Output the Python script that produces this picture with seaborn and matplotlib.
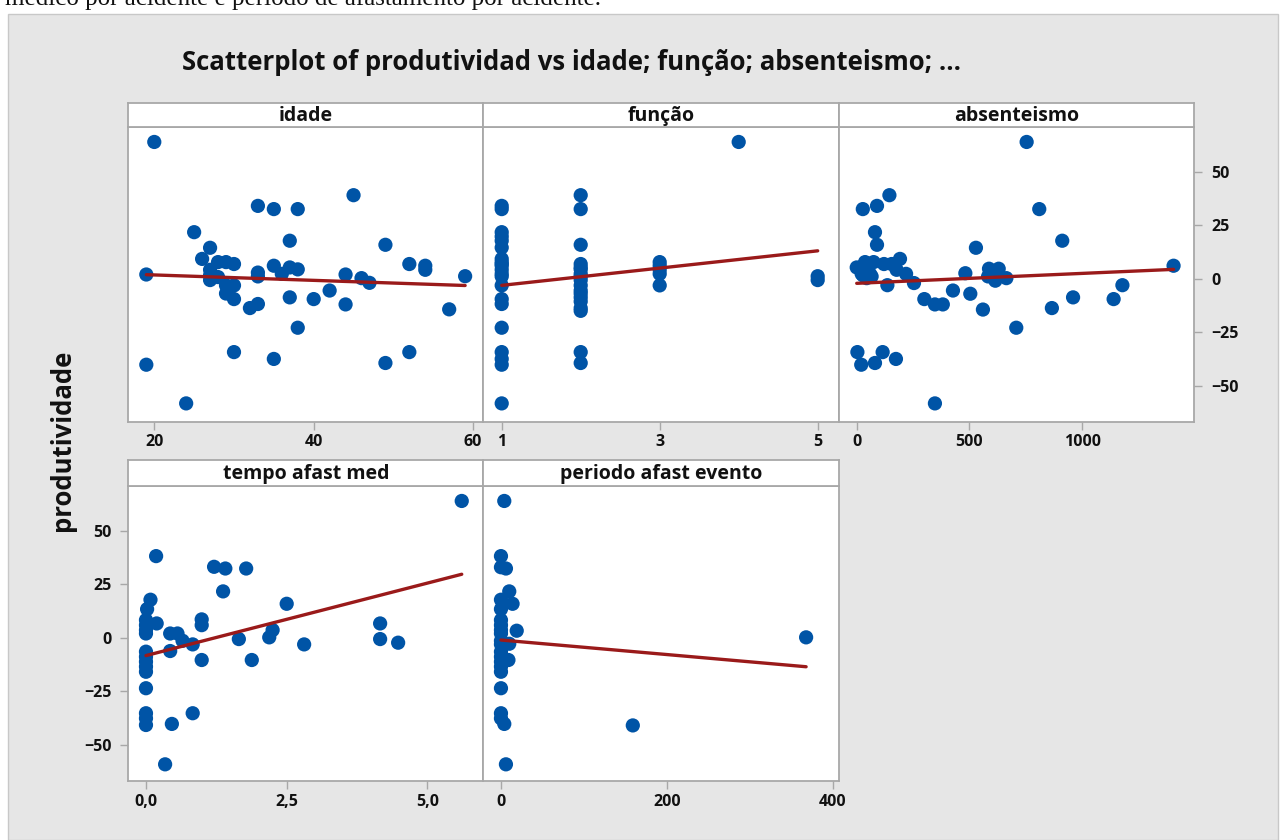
import matplotlib
matplotlib.use("Agg")
import matplotlib.pyplot as plt
import seaborn as sns
from matplotlib.patches import Rectangle

# produtividade vs each predictor
idade_x = [20, 45, 33, 35, 38, 25, 37, 49, 27, 26, 28, 29, 30, 35, 37, 38, 52, 54, 54, 19,
           27, 27, 33, 33, 36, 44, 46, 47, 59, 28, 27, 29, 30, 29, 30, 37, 40, 42, 44, 32,
           33, 57, 38, 30, 52, 35, 49, 19, 24]
idade_y = [64, 39.1, 34.1, 32.6, 32.6, 21.8, 17.8, 15.9, 14.5, 9.3, 7.8, 7.8, 6.9, 6.1, 5.3, 4.4,
           6.9, 6.1, 4.2, 2.0, 4.2, 1.6, 2.9, 1.1, 2.3, 2.0, 0.3, -1.9, 1.2, 0.8, -0.6, -3.1,
           -3.1, -6.9, -9.5, -8.7, -9.5, -5.5, -12.0, -13.7, -11.8, -14.3, -22.9, -34.3, -34.3,
           -37.5, -39.4, -40.2, -58.3]

funcao_x = [1] * 21 + [2] * 18 + [3] * 5 + [4] + [5] * 2
funcao_y = [34.1, 32.6, 21.8, 19.8, 17.8, 14.6, 9.3, 7.8, 6.9, 6.1, 4.2, 2.3, 1.1, -3.1, -9.5,
            -11.8, -22.9, -34.3, -37.5, -40.2, -58.3,
            39.1, 32.6, 15.9, 6.9, 5.3, 4.4, 2.3, 1.1, -0.6, -3.1, -5.5, -6.9, -8.7, -10.6,
            -13.7, -15.0, -34.3, -39.4,
            7.8, 6.1, 4.2, 2.3, -3.1,
            64,
            1.2, -0.6]

absent_x = [754, 145, 27, 90, 810, 81, 90, 912, 529, 0, 37, 75, 121, 155, 192, 177, 219, 22,
            59, 44, 254, 136, 482, 587, 630, 583, 615, 664, 1406, 300, 347, 382, 427, 504,
            560, 708, 866, 960, 1140, 1179, 3, 20, 81, 115, 174, 347, 28, 66]
absent_y = [64, 39.1, 32.6, 34.1, 32.6, 21.8, 15.9, 17.8, 14.5, 5.3, 7.8, 7.8, 6.9, 6.9, 9.3,
            4.2, 2.3, 2.3, 2.3, 0.3, -2.0, -3.0, 2.6, 4.7, 4.7, 1.1, -0.9, 0.3, 6.1, -9.5,
            -12.0, -12.0, -5.5, -7.0, -14.4, -22.9, -13.7, -8.7, -9.5, -3.0, -34.3, -40.2,
            -39.4, -34.3, -37.5, -58.3, 1.6, 1.1]

tempo_x = [5.61, 0.18, 1.21, 1.41, 1.78, 1.37, 2.5, 0.08, 0.02, 0, 0, 0, 0, 0.19, 0.99, 0.99,
           0.43, 0.56, 0.65, 0.83, 1.65, 2.19, 2.25, 2.81, 4.16, 4.16, 4.48, 0.43, 0.99, 1.88,
           0, 0, 0, 0, 0, 0, 0, 0, 0, 0.46, 0.83, 0.34]
tempo_y = [64, 38.2, 33.2, 32.4, 32.4, 21.7, 15.9, 17.8, 13.4, 8.3, 5.9, 3.6, 2.0, 6.7, 8.6,
           5.9, 2.0, 2.0, -1.4, -3.1, -0.6, 0.2, 3.6, -3.1, 6.7, -0.6, -2.3, -6.2, -10.4,
           -10.4, -6.5, -8.9, -11.2, -13.5, -15.9, -23.6, -35.3, -37.7, -40.8, -40.3, -35.3,
           -59.2]

periodo_x = [4, 0, 0, 6, 10, 14, 0, 0, 0, 0, 0, 0, 0, 0, 0, 0, 0, 0, 0, 19, 10, 9, 0, 0, 0,
             4, 159, 368, 6]
periodo_y = [64, 38.2, 33.0, 32.4, 21.7, 15.9, 17.8, 13.4, 8.3, 5.9, 3.6, 2.0, -1.4, -3.1,
             -6.5, -8.9, -11.2, -13.5, -15.9, 3.3, -2.8, -10.4, -23.6, -35.3, -37.7, -40.3,
             -41.0, 0.2, -59.2]

y_ticks = [-50, -25, 0, 25, 50]

sns.set_style("white")
plt.rcParams["font.family"] = ["Open Sans", "DejaVu Sans"]

W, H = 1284, 840
blue = "#0054a6"
red = "#9a1a1a"
frame = "#a8a8a8"
ink = "#111111"

fig = plt.figure(figsize=(W / 100, H / 100), dpi=100)
fig.patches.append(Rectangle((8 / W, 0), 1270 / W, 1 - 14 / H, transform=fig.transFigure,
                             facecolor="#e6e6e6", edgecolor="#c8c8c8", lw=1, zorder=-10))


def box(l, t, r, b):
    return [l / W, 1 - b / H, (r - l) / W, (b - t) / H]


cols = [(128.3, 483.3), (483.3, 838.7), (838.7, 1194.3)]
rows = [(103, 127, 422), (460, 486, 781)]

panels = [
    (idade_x, idade_y, "idade", 0, 0, (16.74, 61.28), [20, 40, 60], ["20", "40", "60"]),
    (funcao_x, funcao_y, "função", 0, 1, (0.767, 5.266), [1, 3, 5], ["1", "3", "5"]),
    (absent_x, absent_y, "absenteismo", 0, 2, (-80, 1498), [0, 500, 1000], ["0", "500", "1000"]),
    (tempo_x, tempo_y, "tempo afast med", 1, 0, (-0.314, 5.993), [0, 2.5, 5], ["0,0", "2,5", "5,0"]),
    (periodo_x, periodo_y, "periodo afast evento", 1, 1, (-21.3, 407.3), [0, 200, 400], ["0", "200", "400"]),
]

for xs, ys, name, r, c, xlim, xt, xtl in panels:
    l, rr = cols[c]
    st, t, b = rows[r]
    ax = fig.add_axes(box(l, t, rr, b))
    sns.regplot(x=xs, y=ys, ax=ax, ci=None, truncate=True,
                scatter_kws=dict(s=105, color=blue, edgecolor="none", alpha=1),
                line_kws=dict(color=red, lw=2.4))
    ax.set_xlim(*xlim)
    ax.set_ylim(-67, 71)
    ax.set_facecolor("white")
    for sp in ax.spines.values():
        sp.set_color(frame)
        sp.set_linewidth(1.3)
    ax.set_xticks(xt)
    ax.set_xticklabels(xtl)
    ax.tick_params(axis="x", direction="out", length=6, width=1, color=frame,
                   labelsize=11.5, pad=3, labelcolor=ink, bottom=True)
    ax.set_yticks(y_ticks)
    if (r, c) == (0, 2):
        ax.yaxis.tick_right()
        ax.tick_params(axis="y", direction="out", length=6, width=1, color=frame,
                       labelsize=11.5, pad=6, labelcolor=ink)
    elif (r, c) == (1, 0):
        ax.tick_params(axis="y", direction="out", length=6, width=1, color=frame,
                       labelsize=11.5, pad=6, labelcolor=ink, left=True)
    else:
        ax.tick_params(axis="y", left=False, labelleft=False)
    for lab in ax.get_xticklabels() + ax.get_yticklabels():
        lab.set_fontweight("bold")
    ax.set_xlabel("")
    ax.set_ylabel("")

    sx = fig.add_axes(box(l, st, rr, t))
    sx.set_facecolor("white")
    sx.set_xticks([])
    sx.set_yticks([])
    for sp in sx.spines.values():
        sp.set_color(frame)
        sp.set_linewidth(1.3)
    sx.text(0.5, 0.45, name, ha="center", va="center", fontsize=14,
            fontweight="bold", transform=sx.transAxes, color=ink)

fig.text(571 / W, 1 - 63 / H, "Scatterplot of produtividad vs idade; função; absenteismo; ...",
         ha="center", va="center", fontsize=18.5, fontweight="bold", color=ink)
fig.text(62 / W, 1 - 440 / H, "produtividade", rotation=90, ha="center", va="center",
         fontsize=18.5, fontweight="bold", color=ink)
fig.text(5 / W, 1 - 5 / H, "médico por acidente e período de afastamento por acidente.",
         ha="left", va="baseline", fontsize=18, family="Liberation Serif", color=ink)

fig.savefig("out.png", dpi=100)
